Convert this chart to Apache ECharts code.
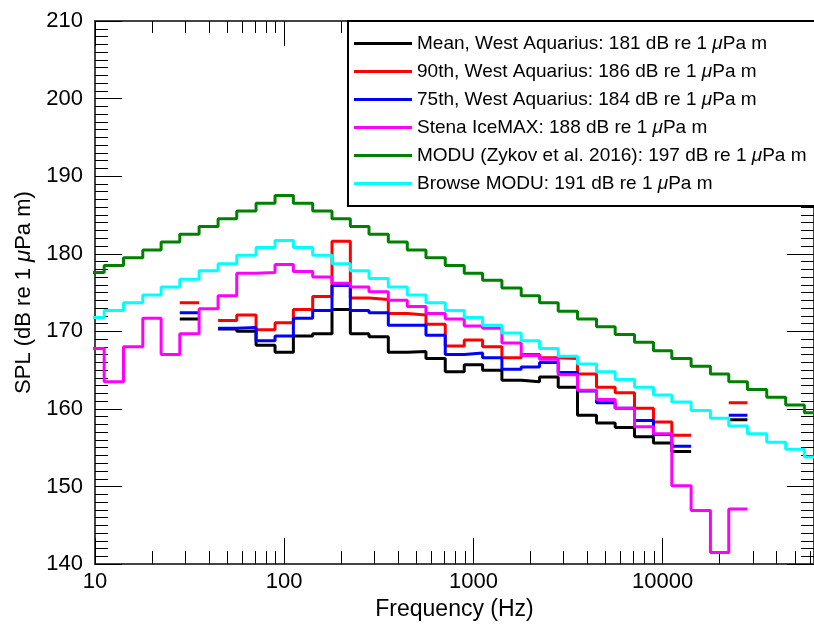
<!DOCTYPE html>
<html>
<head>
<meta charset="utf-8">
<script src="https://cdn.jsdelivr.net/npm/echarts@6/dist/echarts.min.js"></script>
<style>
  html, body { margin: 0; padding: 0; background: #fff; }
  #chart { width: 814px; height: 626px; }
</style>
</head>
<body>
<div id="chart"></div>
<script>
// 1/3-octave band centres (Hz)
const bands = [10, 12.5, 16, 20, 25, 31.5, 40, 50, 63, 80, 100, 125, 160, 200, 250, 315, 400, 500, 630, 800,
  1000, 1250, 1600, 2000, 2500, 3150, 4000, 5000, 6300, 8000, 10000, 12500, 16000, 20000, 25000, 31500, 40000, 50000, 63000]

// band levels, dB re 1 uPa m (null = no data)
const meanWA = [null, null, null, null, null, 171.6, null, 170.3, 170.0, 168.2, 167.3, 169.4, 169.7, 172.8, 169.7, 169.3, 167.3, 167.4, 166.5, 164.8,
  165.7, 165.0, 163.7, 163.5, 164.1, 162.8, 159.2, 158.2, 157.6, 156.4, 155.6, 154.5, null, null, 158.6, null, null, null, null]
const p90WA = [null, null, null, null, null, 173.7, null, 171.4, 172.1, 170.2, 171.1, 172.8, 174.5, 181.6, 174.3, 174.1, 172.3, 172.1, 170.9, 168.1,
  168.9, 168.0, 166.6, 167.0, 166.6, 166.5, 164.5, 162.8, 162.1, 160.1, 158.3, 156.6, null, null, 160.8, null, null, null, null]
const p75WA = [null, null, null, null, null, 172.4, null, 170.4, 170.5, 168.8, 169.4, 171.7, 172.7, 175.9, 172.7, 172.4, 170.8, 170.8, 169.5, 167.0,
  167.2, 166.6, 165.1, 165.4, 166.0, 164.7, 162.3, 160.8, 160.1, 158.5, 156.7, 155.2, null, null, 159.2, null, null, null, null]
const stena = [167.8, 163.5, 168.0, 171.7, 167.0, 169.7, 172.9, 174.6, 177.5, 177.6, 178.6, 177.7, 177.0, 176.2, 175.7, 175.1, 174.0, 173.2, 172.3, 171.6,
  170.7, 170.4, 168.5, 166.9, 166.4, 164.4, 162.4, 161.2, 160.1, 157.7, 156.8, 150.1, 146.9, 141.5, 147.1, null, null, null, null]
const modu = [177.6, 178.5, 179.5, 180.5, 181.5, 182.5, 183.5, 184.5, 185.5, 186.5, 187.5, 186.5, 185.5, 184.5, 183.5, 182.5, 181.5, 180.5, 179.5, 178.5,
  177.5, 176.6, 175.6, 174.6, 173.7, 172.6, 171.6, 170.6, 169.6, 168.6, 167.5, 166.5, 165.5, 164.5, 163.5, 162.5, 161.5, 160.5, 159.5]
const browse = [171.8, 172.7, 173.7, 174.7, 175.7, 176.7, 177.8, 178.7, 179.8, 180.8, 181.7, 180.8, 179.8, 178.7, 177.8, 176.8, 175.7, 174.7, 173.7, 172.7,
  171.8, 170.8, 169.8, 168.8, 167.8, 166.8, 165.8, 164.8, 163.8, 162.8, 161.8, 160.9, 159.8, 158.8, 157.8, 156.8, 155.7, 154.8, 153.8]

const names = [
  'Mean, West Aquarius: 181 dB re 1 μPa m',
  '90th, West Aquarius: 186 dB re 1 μPa m',
  '75th, West Aquarius: 184 dB re 1 μPa m',
  'Stena IceMAX: 188 dB re 1 μPa m',
  'MODU (Zykov et al. 2016): 197 dB re 1 μPa m',
  'Browse MODU: 191 dB re 1 μPa m'
]
const colors = ['#000000', '#ff0000', '#0000ff', '#ff00ff', '#008000', '#00ffff']

const majorTicks = [10, 100, 1000, 10000]
const minorMult = [2, 3, 4, 5, 6, 7, 8, 9]
const yTicks = [140, 150, 160, 170, 180, 190, 200, 210]

const xMax = Math.pow(10, 4.8)
const minorTicks = []
majorTicks.forEach(d => minorMult.forEach(m => { if (d * m < xMax) minorTicks.push(d * m) }))

// band edges = geometric midpoints between centres
const half = Math.pow(10, 0.05)
function lo(i) { return i === 0 ? bands[0] / half : Math.sqrt(bands[i - 1] * bands[i]) }
function hi(i) { return i === bands.length - 1 ? bands[i] * half : Math.sqrt(bands[i] * bands[i + 1]) }

function steps(values) {
  const out = []
  let on = false
  values.forEach((v, i) => {
    if (v == null) {
      if (on) out.push([lo(i), null])
      on = false
      return
    }
    out.push([lo(i), v], [hi(i), v])
    on = true
  })
  return out
}

const font = 'Liberation Sans, Arial, Helvetica, sans-serif'
const tickLine = { color: '#000', width: 1 }
const axisLine = { show: true, lineStyle: { color: '#444', width: 2 } }

function xAxis(pos, ticks, len, line, labels) {
  return {
    type: 'log', logBase: 10, min: 10, max: xMax, position: pos,
    axisLine: line ? axisLine : { show: false },
    axisTick: { show: true, inside: true, length: len, customValues: ticks, lineStyle: tickLine },
    axisLabel: labels ? {
      show: true, customValues: majorTicks, formatter: v => String(Math.round(v)),
      fontFamily: font, fontSize: 22, color: '#000', margin: 7
    } : { show: false },
    splitLine: { show: false },
    minorTick: { show: false }
  }
}

const chart = echarts.init(document.getElementById('chart'))
chart.setOption({
  animation: false,
  backgroundColor: '#fff',
  grid: { left: 95, right: -7, top: 21, bottom: 52 },
  xAxis: [
    Object.assign(xAxis('bottom', majorTicks, 26, true, true), {
      name: 'Frequency (Hz)', nameLocation: 'middle', nameGap: 26,
      nameTextStyle: { fontFamily: font, fontSize: 23, color: '#000' }
    }),
    xAxis('bottom', minorTicks, 13, false, false),
    xAxis('top', majorTicks, 25, true, false),
    xAxis('top', minorTicks, 12, false, false)
  ],
  yAxis: [0, 1].map(k => ({
    type: 'value', min: yTicks[0], max: yTicks[yTicks.length - 1], interval: 10,
    position: k === 0 ? 'left' : 'right',
    name: k === 0 ? 'SPL (dB re 1 {i|μ}Pa m)' : '',
    nameLocation: 'middle', nameGap: 60,
    nameTextStyle: { fontFamily: font, fontSize: 22, color: '#000', rich: { i: { fontStyle: 'italic', fontFamily: font, fontSize: 22, color: '#000' } } },
    axisLine: axisLine,
    axisTick: { show: true, inside: true, length: 27, lineStyle: tickLine },
    minorTick: { show: true, splitNumber: 10, length: 13, lineStyle: tickLine },
    axisLabel: k === 0 ? { show: true, fontFamily: font, fontSize: 22, color: '#000', margin: 12 } : { show: false },
    splitLine: { show: false }
  })),
  // legend frame runs past the right edge, like the cropped original
  graphic: [{
    type: 'rect', z: 3, silent: true,
    shape: { x: 348, y: 21, width: 490, height: 185 },
    style: { fill: '#fff', stroke: '#000', lineWidth: 2 }
  }],
  legend: {
    orient: 'vertical', left: 348, top: 21, z: 5,
    icon: 'rect', itemWidth: 58, itemHeight: 3, itemGap: 9,
    padding: [13, 4, 12, 6],
    selectedMode: false,
    textStyle: { fontFamily: font, fontSize: 19, color: '#000',
      rich: { i: { fontStyle: 'italic', fontFamily: font, fontSize: 19, color: '#000' } } },
    formatter: n => n.replace('μ', '{i|μ}'),
    data: names
  },
  series: [meanWA, p90WA, p75WA, stena, modu, browse].map((vals, i) => ({
    name: names[i],
    type: 'line',
    xAxisIndex: 0, yAxisIndex: 0,
    data: steps(vals),
    showSymbol: false, symbol: 'none',
    connectNulls: false,
    clip: true,
    color: colors[i],
    lineStyle: { color: colors[i], width: 3 }
  }))
})
</script>
</body>
</html>
